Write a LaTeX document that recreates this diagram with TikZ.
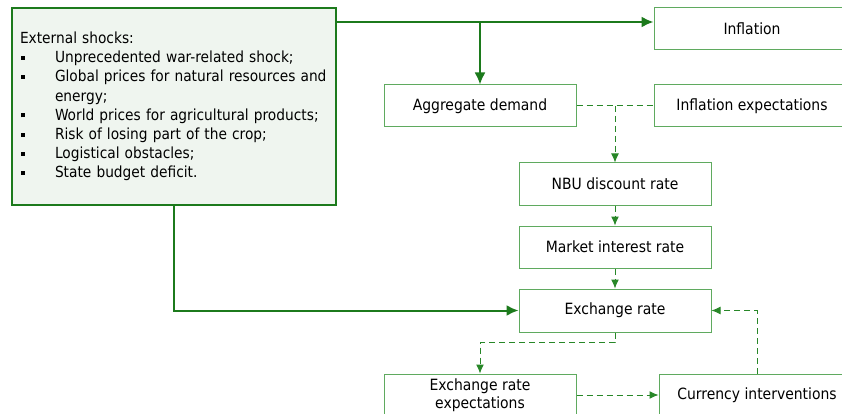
\documentclass[tikz,border=0pt]{standalone}
\usepackage{fontspec}
\setmainfont{DejaVu Sans Condensed}
\usetikzlibrary{arrows.meta}
\definecolor{darkgreen}{RGB}{28,122,28}
\definecolor{midgreen}{RGB}{40,135,40}
\definecolor{boxgreen}{RGB}{95,170,95}
\definecolor{palegreen}{RGB}{239,245,239}
\newcommand{\bul}{\makebox[35pt][l]{\hspace*{1pt}\rule[3pt]{4pt}{4pt}}}

\begin{document}
\begin{tikzpicture}[x = 1pt, y = -1pt, > = {Latex[length = 9pt, width = 8pt]}, font = \fontsize{15.5}{18}\selectfont]
\tikzset{
  block/.style = {draw = boxgreen, line width = 1pt, fill = white, rectangle, minimum width = 192pt, minimum height = 42pt, inner sep = 0pt, align = center},
  wide/.style = {block, minimum width = 196pt},
  shockbox/.style = {draw = darkgreen, line width = 2pt, fill = palegreen, rectangle, minimum width = 324pt, minimum height = 197pt, inner xsep = 8pt, inner ysep = 0pt, text width = 308pt, align = left, font = \fontsize{15.3}{19.2}\selectfont},
  mainline/.style = {draw = darkgreen, line width = 2pt, -{Latex[length = 12pt, width = 11pt]}},
  dashline/.style = {draw = midgreen, line width = 1pt, dash pattern = on 6pt off 4pt},
}
\useasboundingbox (0,0) rectangle (842,414);
\node [shockbox] (shocks) at (174,106.5) {External shocks:\\
\bul Unprecedented war-related shock;\\
\bul Global prices for natural resources and\\
\hspace*{35pt}energy;\\
\bul World prices for agricultural products;\\
\bul Risk of losing part of the crop;\\
\bul Logistical obstacles;\\
\bul State budget deficit.};
\node [wide] (inflation) at (752,29) {Inflation};
\node [block] (aggDemand) at (480,106) {Aggregate demand};
\node [wide] (inflExpect) at (752,106) {Inflation expectations};
\node [block] (discountRate) at (615,184) {NBU discount rate};
\node [block] (interestRate) at (615,247) {Market interest rate};
\node [block, minimum height = 43pt] (exchangeRate) at (615,310.5) {Exchange rate};
\node [block] (exchExpect) at (480,395) {Exchange rate\\expectations};
\node [wide] (interventions) at (757,395) {Currency interventions};
\coordinate (branch) at (480,22);
% solid links from the shocks box
\draw [mainline] (shocks.east |- branch) -- (branch -| inflation.west);
\draw [mainline] (branch) -- (aggDemand.north);
\draw [mainline] (shocks.south) |- (exchangeRate.west);
% dashed links
\draw [dashline] (aggDemand.east) -- (inflExpect.west);
\draw [dashline, ->] (aggDemand.east -| discountRate.north) -- (discountRate.north);
\draw [dashline, ->] (discountRate) -- (interestRate);
\draw [dashline, ->] (interestRate) -- (exchangeRate);
\draw [dashline, ->] (exchangeRate.south) -- ++(0,10) -| (exchExpect.north);
\draw [dashline, ->] (exchExpect.east) -- (interventions.west);
\draw [dashline, ->] (interventions.north) |- (exchangeRate.east);
\end{tikzpicture}
\end{document}
